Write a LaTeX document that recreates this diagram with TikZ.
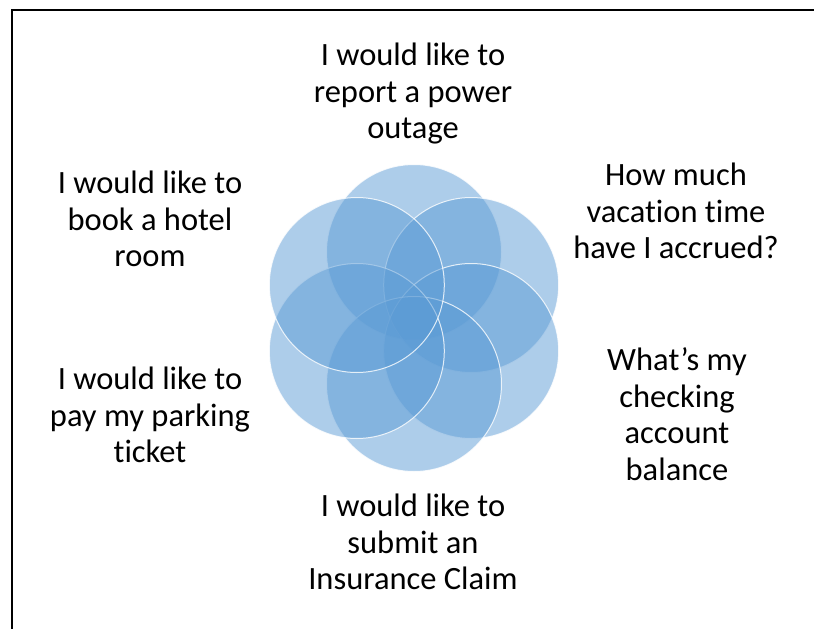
\documentclass[tikz,border=0pt]{standalone}
\usepackage{fontspec}
\setmainfont{Carlito}[Ligatures={NoCommon,NoRare,NoContextual}]
\definecolor{venn}{RGB}{91,155,213}
\begin{document}
\begin{tikzpicture}[x=1pt,y=-1pt,
  petal/.style={circle,minimum size=175pt,inner sep=0pt,fill=venn,fill opacity=0.5,draw=white,draw opacity=0.8,line width=1pt},
  label/.style={align=center,font=\fontsize{32.5}{36.5}\selectfont,text=black,inner sep=0pt}]
\useasboundingbox (0,0) rectangle (814,629);
\coordinate (bl) at (11.5,629);
\coordinate (tl) at (11.5,9.5);
\coordinate (tr) at (814,9.5);
\draw[line width=2pt,black] (bl) -- (tl) -- (tr);
\coordinate (c) at (414,318);
\node[petal] (p1) at ([shift={(0,-66)}]c) {};
\node[petal] (p2) at ([shift={(57.2,-33)}]c) {};
\node[petal] (p3) at ([shift={(57.2,33)}]c) {};
\node[petal] (p4) at ([shift={(0,66)}]c) {};
\node[petal] (p5) at ([shift={(-57.2,33)}]c) {};
\node[petal] (p6) at ([shift={(-57.2,-33)}]c) {};
\node[label] (t1) at (413,94) {I would like to\\report a power\\outage};
\node[label] (t2) at (150,219) {I would like to\\book a hotel\\room};
\node[label] (t3) at (676,211) {How much\\vacation time\\have I accrued?};
\node[label] (t4) at (677,414) {What’s my\\checking\\account\\balance};
\node[label] (t5) at (150,415) {I would like to\\pay my parking\\ticket};
\node[label] (t6) at (413,542) {I would like to\\submit an\\Insurance Claim};
\end{tikzpicture}
\end{document}
